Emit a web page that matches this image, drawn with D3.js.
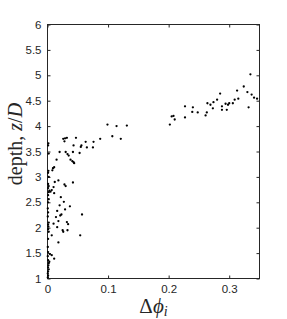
<!DOCTYPE html>
<html><head><meta charset="utf-8">
<script src="https://cdn.jsdelivr.net/npm/d3@7"></script>
<style>body{margin:0;background:#fff}svg{display:block}</style>
</head><body>
<script>
const dphi = [
  // right cluster
  0.202,0.205,0.208,0.210,0.227,0.227,0.240,0.239,0.248,0.261,0.263,0.264,0.269,0.274,0.273,0.280,0.285,0.288,0.288,0.294,0.296,0.298,0.300,0.306,0.309,0.313,0.315,0.324,0.330,0.332,0.335,0.337,0.341,0.346,
  // middle cluster
  0.099,0.114,0.131,0.107,0.121,0.087,0.076,0.075,0.065,0.063,0.056,0.055,0.053,0.047,0.043,0.042,0.038,0.041,0.043,0.044,0.026,0.029,0.032,0.028,0.030,0.033,0.035,0.020,0.015,0.011,0.009,0.008,
  // lower cluster
  0.018,0.042,0.028,0.030,0.012,0.010,0.007,0.011,0.005,0.022,0.027,0.020,0.037,0.016,0.029,0.023,0.021,0.057,0.014,0.018,0.032,0.010,0.034,0.016,0.025,0.026,0.033,0.054,0.007,0.018,0.004,0.007,0.011,0.003,
  // near zero
  0.0005,0.001,0.0005,0.001,0.002,0.001,0.0015,0.002,0.001,0.0005,0.001,0.0005,0.001,0.002,0.001,0.0015,0.001,0.002,0.0005,0.001,0.0005,0.001,0.002,0.001,0.002,0.003,0.001,0.002,0.001,0.002,0.001,0.0015,0.002,0.001,0.0015
];
const depth = [
  4.03,4.19,4.20,4.13,4.39,4.17,4.37,4.28,4.27,4.21,4.27,4.45,4.42,4.47,4.35,4.52,4.64,4.39,4.32,4.44,4.32,4.42,4.45,4.45,4.52,4.70,4.54,4.78,4.67,4.37,5.02,4.62,4.56,4.54,
  4.03,4.00,4.01,3.80,3.75,3.75,3.69,3.58,3.58,3.69,3.62,3.59,3.47,3.77,3.62,3.49,3.34,3.31,3.29,3.27,3.75,3.76,3.77,3.70,3.49,3.45,3.42,3.49,3.34,3.19,3.17,3.13,
  2.93,2.89,2.85,2.82,2.90,2.80,2.74,2.68,2.71,2.60,2.51,2.44,2.42,2.33,2.36,2.26,2.24,2.26,2.21,2.13,2.11,2.08,2.07,2.01,1.95,1.92,1.95,1.85,1.85,1.71,1.48,1.46,1.39,1.33,
  1.02,1.06,1.10,1.14,1.18,1.22,1.26,1.30,1.36,1.44,1.52,1.62,1.78,1.92,1.97,2.02,2.06,2.10,2.22,2.30,2.38,2.50,2.56,2.64,2.70,2.73,2.78,2.82,2.86,3.00,3.08,3.12,3.46,3.62,3.66
];
const xTicks = [0, 0.1, 0.2, 0.3];
const xTickLabels = ["0", "0.1", "0.2", "0.3"];
const yTicks = [1, 1.5, 2, 2.5, 3, 3.5, 4, 4.5, 5, 5.5, 6];
const yTickLabels = ["1", "1.5", "2", "2.5", "3", "3.5", "4", "4.5", "5", "5.5", "6"];

const W = 287, H = 319;
const L = 47.5, R = 259.5, T = 24.5, B = 278.5;
const svg = d3.select("body").append("svg").attr("width", W).attr("height", H);
const x = d3.scaleLinear().domain([0, 0.35]).range([L, R]);
const y = d3.scaleLinear().domain([1, 6]).range([B, T]);
const ink = "#262626";
const tf = "Liberation Sans, Arial, Helvetica, sans-serif";

function style(g){
  g.select(".domain").remove();
  g.selectAll("line").attr("stroke", ink);
  g.selectAll("text").attr("fill", ink).style("font-family", tf).style("font-size", "11.5px");
}
svg.append("g").attr("transform", `translate(0,${B})`)
  .call(d3.axisBottom(x).tickValues(xTicks).tickFormat((d,i)=>xTickLabels[i]).tickSizeInner(-3).tickSizeOuter(0).tickPadding(6)).call(style);
svg.append("g").attr("transform", `translate(0,${T})`)
  .call(d3.axisTop(x).tickValues(xTicks).tickFormat("").tickSizeInner(-3).tickSizeOuter(0)).call(style);
svg.append("g").attr("transform", `translate(${L},0)`)
  .call(d3.axisLeft(y).tickValues(yTicks).tickFormat((d,i)=>yTickLabels[i]).tickSizeInner(-3).tickSizeOuter(0).tickPadding(6)).call(style);
svg.append("g").attr("transform", `translate(${R},0)`)
  .call(d3.axisRight(y).tickValues(yTicks).tickFormat("").tickSizeInner(-3).tickSizeOuter(0)).call(style);

svg.append("rect").attr("x", L).attr("y", T).attr("width", R - L).attr("height", B - T)
  .attr("fill", "none").attr("stroke", ink).attr("stroke-width", 1);

svg.append("g").selectAll("circle").data(d3.range(dphi.length)).join("circle")
  .attr("cx", i => x(dphi[i])).attr("cy", i => y(depth[i])).attr("r", 1.15).attr("fill", "#000");

const serif = "Liberation Serif, Times New Roman, serif";
const yl = svg.append("text").attr("transform", "translate(21.5,144) rotate(-90)")
  .attr("text-anchor", "middle").style("font-family", serif).style("font-size", "20px").attr("fill", ink);
yl.append("tspan").text("depth, ");
yl.append("tspan").style("font-style", "italic").text("z");
yl.append("tspan").text("/");
yl.append("tspan").style("font-style", "italic").text("D");

const xl = svg.append("text").attr("x", 153.5).attr("y", 313)
  .attr("text-anchor", "middle").style("font-family", serif).style("font-size", "21px").attr("fill", ink);
xl.append("tspan").text("Δ");
xl.append("tspan").style("font-style", "italic").text("ϕ");
xl.append("tspan").style("font-style", "italic").style("font-size", "14px").attr("dy", 3).text("i");
</script>
</body></html>
